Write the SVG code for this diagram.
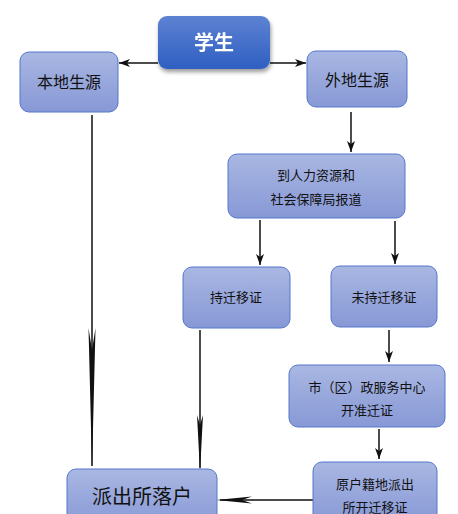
<svg xmlns="http://www.w3.org/2000/svg" width="458" height="514" viewBox="0 0 458 514">
<defs>
<linearGradient id="gn" x1="0" y1="0" x2="0" y2="1"><stop offset="0" stop-color="#a9b7e2"/><stop offset="1" stop-color="#8798d6"/></linearGradient>
<linearGradient id="gs" x1="0" y1="0" x2="0" y2="1"><stop offset="0" stop-color="#5d82d2"/><stop offset="1" stop-color="#2f5fc2"/></linearGradient>
<filter id="sh" x="-20%" y="-20%" width="150%" height="160%"><feGaussianBlur in="SourceAlpha" stdDeviation="2"/><feOffset dx="1" dy="3"/><feComponentTransfer><feFuncA type="linear" slope="0.4"/></feComponentTransfer><feMerge><feMergeNode/><feMergeNode in="SourceGraphic"/></feMerge></filter>
<marker id="ah" markerWidth="12" markerHeight="10" refX="11" refY="5" orient="auto" markerUnits="userSpaceOnUse"><path d="M0,1 L11,5 L0,9 L3,5 Z" fill="#111"/></marker>
</defs>
<style>
.n{fill:url(#gn);stroke:#5577cc;stroke-width:1}
.t{font-family:"Noto Sans CJK SC",sans-serif;font-size:13px;fill:#111;text-anchor:middle}
.c{stroke:#111;stroke-width:1.5;fill:none}
.h{fill:#111}
</style>
<g id="connectors">
<line class="c" x1="158" y1="63" x2="119" y2="63" marker-end="url(#ah)"/>
<line class="c" x1="270" y1="63" x2="306" y2="63" marker-end="url(#ah)"/>
<line class="c" x1="351" y1="112" x2="351" y2="152" marker-end="url(#ah)"/>
<line class="c" x1="260" y1="220" x2="260" y2="265" marker-end="url(#ah)"/>
<line class="c" x1="395" y1="221" x2="395" y2="264" marker-end="url(#ah)"/>
<line class="c" x1="389" y1="330" x2="389" y2="362" marker-end="url(#ah)"/>
<line class="c" x1="379" y1="429" x2="379" y2="459" marker-end="url(#ah)"/>
<line class="c" x1="92" y1="115" x2="92" y2="466"/>
<path class="h" d="M88.5,328 L92,468 L95.5,328 L92,350 Z"/>
<line class="c" x1="200" y1="330" x2="200" y2="468"/>
<path class="h" d="M197,415 L200,472 L203,415 L200,425 Z"/>
<line class="c" x1="313" y1="500" x2="220" y2="500"/>
<path class="h" d="M252,496.5 L216,500 L252,503.5 L242,500 Z"/>
</g>
<g id="student" filter="url(#sh)">
<rect x="158" y="16" width="112" height="53" rx="9" fill="url(#gs)"/>
<text x="214" y="50" font-family="'Noto Sans CJK SC',sans-serif" font-size="20" font-weight="bold" fill="#fff" text-anchor="middle">学生</text>
</g>
<g id="local">
<rect class="n" x="20" y="52" width="98" height="60" rx="9"/>
<text class="t" x="69" y="88" style="font-size:16px">本地生源</text>
</g>
<g id="outer">
<rect class="n" x="307" y="51" width="100" height="56" rx="9"/>
<text class="t" x="357" y="86" style="font-size:16px">外地生源</text>
</g>
<g id="report">
<rect class="n" x="228" y="154" width="177" height="64" rx="9"/>
<text class="t" x="316" y="180">到人力资源和</text>
<text class="t" x="316" y="204">社会保障局报道</text>
</g>
<g id="hold">
<rect class="n" x="183" y="267" width="107" height="61" rx="9"/>
<text class="t" x="236" y="302">持迁移证</text>
</g>
<g id="nohold">
<rect class="n" x="331" y="266" width="106" height="61" rx="9"/>
<text class="t" x="384" y="302">未持迁移证</text>
</g>
<g id="center">
<rect class="n" x="289" y="365" width="156" height="62" rx="9"/>
<text class="t" x="367" y="392">市（区）政服务中心</text>
<text class="t" x="367" y="415">开准迁证</text>
</g>
<g id="origin">
<rect class="n" x="313" y="462" width="124" height="62" rx="9"/>
<text class="t" x="375" y="489">原户籍地派出</text>
<text class="t" x="375" y="512">所开迁移证</text>
</g>
<g id="settle">
<rect class="n" x="67" y="469" width="150" height="60" rx="9"/>
<text class="t" x="142" y="504" style="font-size:20px">派出所落户</text>
</g>
</svg>
